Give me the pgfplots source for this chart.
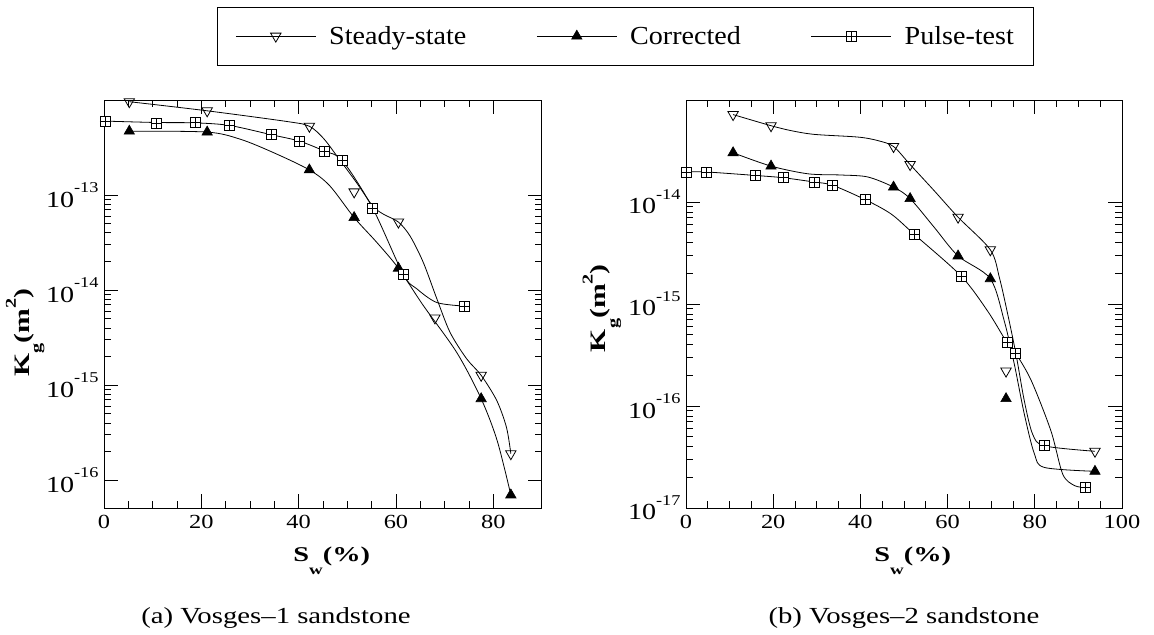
\documentclass[border=0pt]{standalone}
\usepackage{fontspec}
\usepackage{pgfplots}
\pgfplotsset{compat=1.18}
\setmainfont{Liberation Serif}
\newfontfamily\tickf[FakeStretch=1.22]{Liberation Serif}
\newfontfamily\labf[FakeStretch=1.35]{Liberation Serif}
\newfontfamily\capf[FakeStretch=1.25]{Liberation Serif}
\newfontfamily\legf[FakeStretch=1.08]{Liberation Serif}

\pgfdeclareplotmark{boxplus}{%
  \pgfpathrectangle{\pgfpoint{-\pgfplotmarksize}{-\pgfplotmarksize}}{\pgfpoint{2\pgfplotmarksize}{2\pgfplotmarksize}}%
  \pgfusepathqfillstroke
  \pgfpathmoveto{\pgfpoint{-\pgfplotmarksize}{0pt}}\pgfpathlineto{\pgfpoint{\pgfplotmarksize}{0pt}}%
  \pgfpathmoveto{\pgfpoint{0pt}{-\pgfplotmarksize}}\pgfpathlineto{\pgfpoint{0pt}{\pgfplotmarksize}}%
  \pgfusepathqstroke}

\newcommand{\ytl}[1]{10\raisebox{0.62em}{\fontsize{15bp}{15bp}\selectfont #1}}
\newcommand{\xlab}{\labf\bfseries\fontsize{21bp}{21bp}\selectfont S\raisebox{-0.6em}{\fontsize{14bp}{14bp}\selectfont w}(\%)}
\newcommand{\ylab}{\labf\bfseries\fontsize{22bp}{22bp}\selectfont K\raisebox{-0.55em}{\fontsize{15bp}{15bp}\selectfont g}(m\raisebox{0.6em}{\fontsize{15bp}{15bp}\selectfont 2})}

\pgfplotsset{
  curve/.style={black, line width=0.8bp, smooth, tension=0.5, no marks, forget plot},
  mss/.style={black, only marks, mark=triangle, mark size=6bp, mark options={rotate=180, fill=white, line width=0.8bp}},
  mco/.style={black, only marks, mark=triangle*, mark size=6bp, mark options={fill=black, line width=0.6bp}},
  mpt/.style={black, only marks, mark=boxplus, mark size=5bp, mark options={fill=white, line width=0.8bp}},
}

\begin{document}
\begin{tikzpicture}
\useasboundingbox (0,0) rectangle (1154bp,635bp);

% ---------- (a) Vosges-1 ----------
\begin{axis}[
  scale only axis, ymode=log,
  axis line style={line width=1bp},
  tick style={black, line width=0.8bp},
  major tick length=14bp, minor tick length=7bp,
  tick align=inside, xtick pos=both, ytick pos=both,
  minor x tick num=3, clip=false,
  xticklabel style={font=\tickf\fontsize{20bp}{20bp}\selectfont, yshift=-4bp},
  yticklabel style={font=\tickf\fontsize{23bp}{23bp}\selectfont, xshift=-2bp},
  xlabel={\xlab}, ylabel={\ylab},
  xlabel style={at={(axis description cs:0.52,-0.13)}, anchor=center},
  ylabel style={at={(axis description cs:-0.18,0.43)}, anchor=center},
  at={(104bp,127bp)}, anchor=south west, width=438bp, height=408bp,
  xmin=0, xmax=90, ymin=5.1e-17, ymax=1e-12,
  xtick={0,20,40,60,80}, xticklabels={0,20,40,60,80},
  ytick={1e-16,1e-15,1e-14,1e-13}, yticklabels={\ytl{-16},\ytl{-15},\ytl{-14},\ytl{-13}},
  legend columns=3,
  legend cell align=left,
  legend style={at={(0.258,1.228)}, anchor=north west,
    draw=black, line width=0.8bp, inner xsep=18bp, inner ysep=17bp,
    font=\legf\fontsize{26bp}{30bp}\selectfont,
    /tikz/every odd column/.append style={column sep=11bp},
    /tikz/every even column/.append style={column sep=68bp}},
  legend image code/.code={\draw[black, line width=0.8bp] (0bp,0bp) -- (80bp,0bp); \draw plot coordinates {(40bp,0bp)};},
]
\addplot[curve] coordinates {(5.2,9.6e-13) (21.2,7.7e-13) (38,5.9e-13) (42.2,5.3e-13) (45.1,3.95e-13) (47.8,2.6e-13) (51.9,1.35e-13) (55.2,7.7e-14) (57.4,6.3e-14) (60.5,5.2e-14) (62.9,3.7e-14) (65.6,1.96e-14) (68.4,8.1e-15) (71.1,3.6e-15) (74.5,1.9e-15) (77.5,1.27e-15) (80.7,6.9e-16) (82.7,3.6e-16) (83.6,1.9e-16)};
\addplot[curve] coordinates {(5.2,4.7e-13) (21.2,4.6e-13) (28.0,3.87e-13) (34.8,2.8e-13) (42.2,1.84e-13) (46.4,1.25e-13) (51.4,5.8e-14) (56.0,3.2e-14) (60.5,1.7e-14) (65.6,6.9e-15) (72.5,2.2e-15) (77.5,7.2e-16) (80.8,2.6e-16) (83.6,7e-17)};
\addplot[curve] coordinates {(0.2,6.0e-13) (10.7,5.8e-13) (18.7,5.75e-13) (25.8,5.4e-13) (34.5,4.3e-13) (40.1,3.7e-13) (45.3,2.9e-13) (49.0,2.3e-13) (55.2,7.3e-14) (61.5,1.46e-14) (64.3,1.03e-14) (68.4,7.4e-15) (74.0,6.8e-15)};
\addplot[mss] coordinates {(5.2,9.6e-13) (21.2,7.7e-13) (42.2,5.3e-13) (51.4,1.08e-13) (60.5,5.2e-14) (68.0,5.1e-15) (77.5,1.27e-15) (83.6,1.9e-16)};
\addlegendentry{Steady-state}
\addplot[mco] coordinates {(5.2,4.7e-13) (21.2,4.6e-13) (42.2,1.84e-13) (51.4,5.8e-14) (60.5,1.7e-14) (77.5,7.2e-16) (83.6,7e-17)};
\addlegendentry{Corrected}
\addplot[mpt] coordinates {(0.2,6.0e-13) (10.7,5.7e-13) (18.7,5.8e-13) (25.8,5.4e-13) (34.5,4.3e-13) (40.1,3.7e-13) (45.3,2.9e-13) (49.0,2.3e-13) (55.2,7.3e-14) (61.5,1.46e-14) (74.0,6.8e-15)};
\addlegendentry{Pulse-test}
\end{axis}

% ---------- (b) Vosges-2 ----------
\begin{axis}[
  scale only axis, ymode=log,
  axis line style={line width=1bp},
  tick style={black, line width=0.8bp},
  major tick length=14bp, minor tick length=7bp,
  tick align=inside, xtick pos=both, ytick pos=both,
  minor x tick num=3, clip=false,
  xticklabel style={font=\tickf\fontsize{20bp}{20bp}\selectfont, yshift=-4bp},
  yticklabel style={font=\tickf\fontsize{23bp}{23bp}\selectfont, xshift=-2bp},
  xlabel={\xlab}, ylabel={\ylab},
  xlabel style={at={(axis description cs:0.52,-0.13)}, anchor=center},
  ylabel style={at={(axis description cs:-0.193,0.49)}, anchor=center},
  at={(686bp,127bp)}, anchor=south west, width=436bp, height=408bp,
  xmin=0, xmax=100, ymin=1e-17, ymax=1e-13,
  xtick={0,20,40,60,80,100}, xticklabels={0,20,40,60,80,100},
  ytick={1e-17,1e-16,1e-15,1e-14}, yticklabels={\ytl{-17},\ytl{-16},\ytl{-15},\ytl{-14}},
]
\addplot[curve] coordinates {(10.8,7.2e-14) (19.5,5.6e-14) (24.2,5.0e-14) (29.5,4.6e-14) (39.5,4.33e-14) (44.0,4.0e-14) (47.6,3.5e-14) (51.4,2.33e-14) (57.0,1.28e-14) (62.4,7.1e-15) (69.8,3.4e-15) (71.9,1.8e-15) (73.8,7.9e-16) (75.7,3.2e-16) (77.6,1.12e-16) (79.5,5.3e-17) (82.2,4.07e-17) (93.8,3.6e-17)};
\addplot[curve] coordinates {(10.8,3.04e-14) (19.5,2.25e-14) (28.0,1.89e-14) (35.6,1.84e-14) (41.7,1.76e-14) (47.6,1.4e-14) (51.4,1.08e-14) (57.0,5.6e-15) (62.4,2.96e-15) (69.8,1.77e-15) (73.0,6.8e-16) (75.3,2.57e-16) (77.6,8.3e-17) (79.9,3.4e-17) (82.2,2.5e-17) (93.8,2.29e-17)};
\addplot[curve] coordinates {(0,1.97e-14) (4.7,1.97e-14) (16.0,1.82e-14) (22.3,1.73e-14) (29.4,1.57e-14) (33.6,1.46e-14) (41.2,1.05e-14) (47.1,7.6e-15) (52.4,4.8e-15) (63.1,1.88e-15) (69.2,8.5e-16) (73.6,4.2e-16) (75.6,3.3e-16) (79.2,1.77e-16) (83.7,5.7e-17) (86.4,2.15e-17) (89.1,1.66e-17) (91.6,1.59e-17)};
\addplot[mss] coordinates {(10.8,7.2e-14) (19.5,5.6e-14) (47.6,3.5e-14) (51.4,2.33e-14) (62.4,7.1e-15) (69.8,3.4e-15) (73.4,2.2e-16) (93.8,3.6e-17)};
\addplot[mco] coordinates {(10.8,3.04e-14) (19.5,2.25e-14) (47.6,1.4e-14) (51.4,1.08e-14) (62.4,2.96e-15) (69.8,1.77e-15) (73.4,1.18e-16) (93.8,2.29e-17)};
\addplot[mpt] coordinates {(0,1.97e-14) (4.7,1.97e-14) (16.0,1.82e-14) (22.3,1.73e-14) (29.4,1.57e-14) (33.6,1.46e-14) (41.2,1.05e-14) (52.4,4.8e-15) (63.1,1.88e-15) (73.6,4.2e-16) (75.6,3.3e-16) (82.2,4.07e-17) (91.6,1.59e-17)};
\end{axis}

\node[font=\capf\fontsize{23bp}{23bp}\selectfont] at (276bp,17bp) {(a) Vosges–1 sandstone};
\node[font=\capf\fontsize{23bp}{23bp}\selectfont] at (904bp,17bp) {(b) Vosges–2 sandstone};
\end{tikzpicture}
\end{document}
